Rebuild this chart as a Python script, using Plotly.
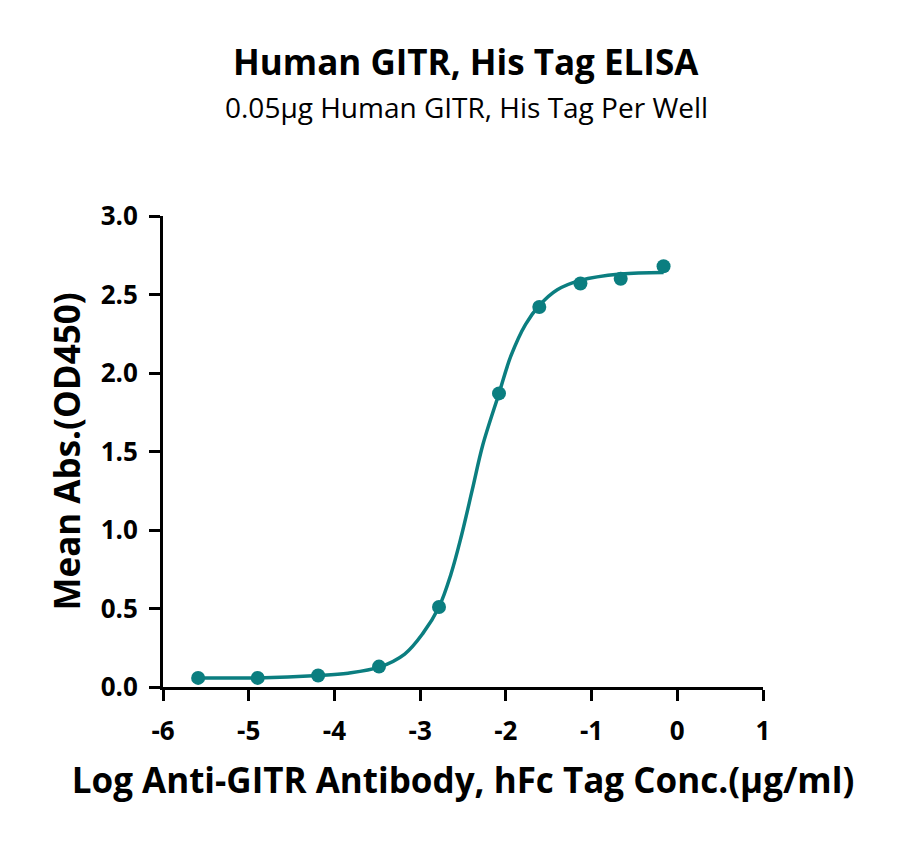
import plotly.graph_objects as go

# measured points (log conc, OD450)
log_conc = [-5.59, -4.895, -4.19, -3.48, -2.78, -2.08, -1.61, -1.13, -0.66, -0.16]
od450 = [0.058, 0.058, 0.073, 0.13, 0.51, 1.87, 2.42, 2.57, 2.60, 2.68]

# fitted curve
fit_x = [-5.59, -4.91, -4.19, -3.84, -3.48, -3.18, -2.97, -2.78, -2.64, -2.52,
         -2.39, -2.27, -2.08, -1.94, -1.77, -1.61, -1.40, -1.13, -0.66, -0.16]
fit_y = [0.058, 0.058, 0.073, 0.088, 0.126, 0.21, 0.34, 0.51, 0.72, 0.96,
         1.26, 1.54, 1.87, 2.11, 2.31, 2.43, 2.53, 2.59, 2.63, 2.64]

x_ticks = [-6, -5, -4, -3, -2, -1, 0, 1]
y_ticks = [0.0, 0.5, 1.0, 1.5, 2.0, 2.5, 3.0]

title = "Human GITR, His Tag ELISA"
subtitle = "0.05µg Human GITR, His Tag Per Well"

teal = "#0b7e80"
font = "Open Sans"

fig = go.Figure()
fig.add_trace(go.Scatter(
    x=fit_x, y=fit_y, mode="lines",
    line=dict(color=teal, width=3.5, shape="spline", smoothing=1.0),
    showlegend=False, cliponaxis=False,
))
fig.add_trace(go.Scatter(
    x=log_conc, y=od450, mode="markers",
    marker=dict(color=teal, size=14),
    showlegend=False, cliponaxis=False,
))

# title and subtitle as annotations so they can be placed exactly
fig.add_annotation(text=f"<b>{title}</b>", xref="paper", yref="paper",
                   x=0.505, y=1.327, xanchor="center", yanchor="middle",
                   showarrow=False, font=dict(size=35, family=font))
fig.add_annotation(text=subtitle, xref="paper", yref="paper",
                   x=0.505, y=1.231, xanchor="center", yanchor="middle",
                   showarrow=False, font=dict(size=28, family=font))

fig.update_layout(
    width=900, height=842,
    margin=dict(l=155, r=145, t=208, b=163),
    plot_bgcolor="white", paper_bgcolor="white",
    font=dict(family=font, color="black"),
    xaxis=dict(
        range=[-6, 1], tickvals=x_ticks, ticktext=[str(t) for t in x_ticks],
        showgrid=False, zeroline=False,
        showline=True, linecolor="black", linewidth=3,
        ticks="outside", ticklen=11, tickwidth=3, tickcolor="black",
        ticklabelstandoff=8,
        tickfont=dict(size=26, family=font, weight="bold"),
        title=dict(text="<b>Log Anti-GITR Antibody, hFc Tag Conc.(µg/ml)</b>",
                   font=dict(size=35, family=font), standoff=22),
    ),
    yaxis=dict(
        range=[0, 3], tickvals=y_ticks, ticktext=[f"{t:.1f}" for t in y_ticks],
        showgrid=False, zeroline=False,
        showline=True, linecolor="black", linewidth=3,
        ticks="outside", ticklen=11, tickwidth=3, tickcolor="black",
        ticklabelstandoff=6,
        tickfont=dict(size=26, family=font, weight="bold"),
        title=dict(text="<b>Mean Abs.(OD450)</b>",
                   font=dict(size=35, family=font), standoff=10),
    ),
)

fig.write_html("out.html")
